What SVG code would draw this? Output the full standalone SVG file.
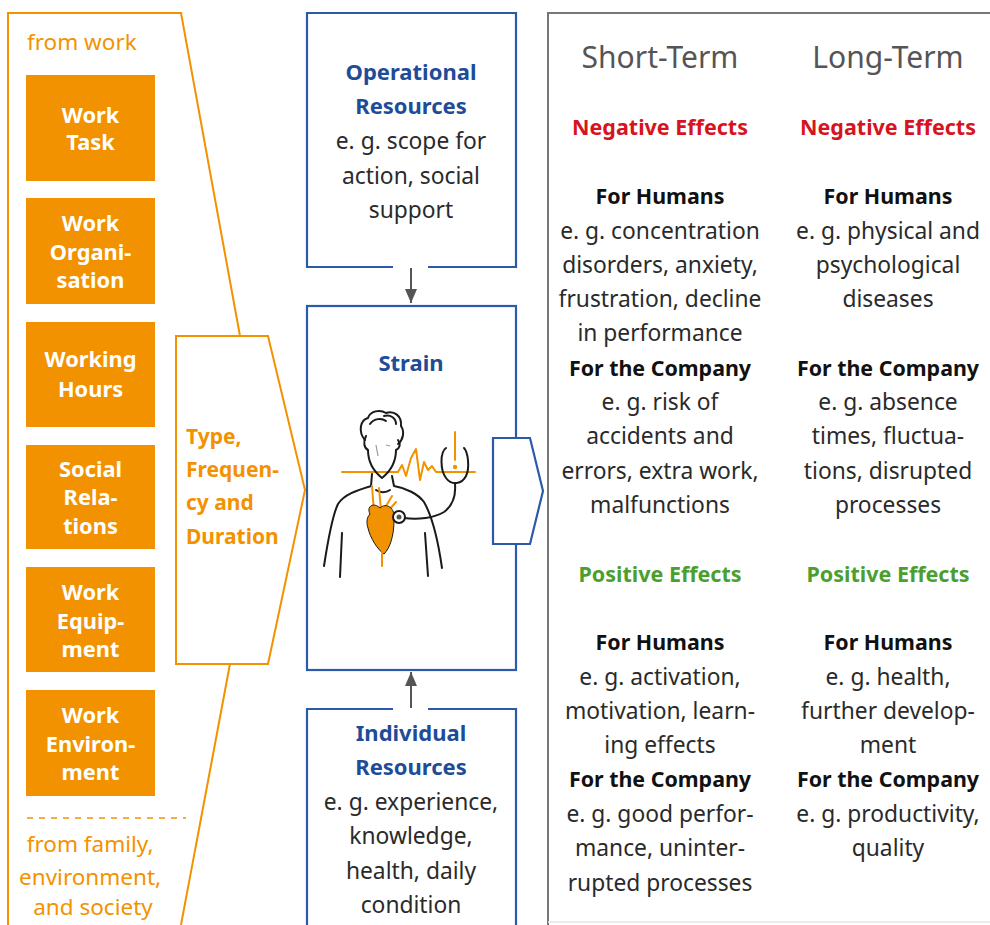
<svg xmlns="http://www.w3.org/2000/svg" width="990" height="925" viewBox="0 0 990 925">
  <defs>
    <style>
      .txt { font-family: "Noto Sans", "Open Sans", sans-serif; }
      .ob { fill: #F39200; }
      .obt { fill: #ffffff; font-weight: bold; font-size: 21.8px; text-anchor: middle; }
      .orange { fill: #F39200; }
      .oline { fill: none; stroke: #F39200; stroke-width: 2; }
      .bbox { fill: #ffffff; stroke: #2A5AA8; stroke-width: 2.2; }
      .bline { fill: none; stroke: #2A5AA8; stroke-width: 2.2; }
      .btitle { fill: #1E4C98; font-weight: bold; font-size: 22px; text-anchor: middle; }
      .body { fill: #2a2a2a; font-size: 22.8px; text-anchor: middle; }
      .head { fill: #111; font-weight: bold; font-size: 21.4px; text-anchor: middle; }
      .neg { fill: #D7141E; font-weight: bold; font-size: 21.5px; text-anchor: middle; }
      .pos { fill: #4A9F2E; font-weight: bold; font-size: 21.5px; text-anchor: middle; }
      .term { fill: #555555; font-size: 30px; text-anchor: middle; }
      .conn { stroke: #555555; stroke-width: 2; fill: none; }
      .ink { fill: none; stroke: #1a1a1a; stroke-width: 2; stroke-linecap: round; stroke-linejoin: round; }
      .oink { fill: none; stroke: #F39200; stroke-width: 2; stroke-linecap: round; stroke-linejoin: round; }
    </style>
    <marker id="tri" viewBox="0 0 14 12" refX="14" refY="6" markerWidth="14" markerHeight="12" markerUnits="userSpaceOnUse" orient="auto">
      <path d="M0,0 L14,6 L0,12 z" fill="#555555"/>
    </marker>
  </defs>

  <rect width="990" height="925" fill="#ffffff"/>

  <!-- Stressor funnel outline -->
  <g id="stressors-frame">
    <polyline class="oline" points="8,925 8,13 181,13 240,336"/>
    <line class="oline" x1="230" y1="664" x2="181" y2="925"/>
    <text class="txt orange" x="27" y="50" font-size="22.5">from work</text>
    <line x1="27" y1="818" x2="186" y2="818" stroke="#F39200" stroke-width="1.6" stroke-dasharray="6,6"/>
    <text class="txt orange" font-size="22.5" text-anchor="middle">
      <tspan x="93" y="852">from family,</tspan>
      <tspan x="93" y="885">environment,</tspan>
      <tspan x="93" y="915">and society</tspan>
    </text>
  </g>

  <g id="work-task">
    <rect class="ob" x="26" y="75" width="129" height="106"/>
    <text class="txt obt"><tspan x="90.5" y="123">Work</tspan><tspan x="90.5" y="150">Task</tspan></text>
  </g>
  <g id="work-organisation">
    <rect class="ob" x="26" y="198" width="129" height="106"/>
    <text class="txt obt"><tspan x="90.5" y="231">Work</tspan><tspan x="90.5" y="260">Organi-</tspan><tspan x="90.5" y="288">sation</tspan></text>
  </g>
  <g id="working-hours">
    <rect class="ob" x="26" y="322" width="129" height="105"/>
    <text class="txt obt"><tspan x="90.5" y="367">Working</tspan><tspan x="90.5" y="397">Hours</tspan></text>
  </g>
  <g id="social-relations">
    <rect class="ob" x="26" y="445" width="129" height="104"/>
    <text class="txt obt"><tspan x="90.5" y="477">Social</tspan><tspan x="90.5" y="505">Rela-</tspan><tspan x="90.5" y="534">tions</tspan></text>
  </g>
  <g id="work-equipment">
    <rect class="ob" x="26" y="567" width="129" height="105"/>
    <text class="txt obt"><tspan x="90.5" y="600">Work</tspan><tspan x="90.5" y="629">Equip-</tspan><tspan x="90.5" y="657">ment</tspan></text>
  </g>
  <g id="work-environment">
    <rect class="ob" x="26" y="690" width="129" height="106"/>
    <text class="txt obt"><tspan x="90.5" y="723">Work</tspan><tspan x="90.5" y="752">Environ-</tspan><tspan x="90.5" y="780">ment</tspan></text>
  </g>

  <!-- Type, frequency and duration -->
  <g id="type-frequency-duration">
    <polygon points="176,336 268,336 305,490 268,664 176,664" fill="#ffffff" stroke="#F39200" stroke-width="2"/>
    <text class="txt orange" font-size="21" font-weight="bold">
      <tspan x="186" y="444">Type,</tspan>
      <tspan x="186" y="477">Frequen-</tspan>
      <tspan x="186" y="510">cy and</tspan>
      <tspan x="186" y="544">Duration</tspan>
    </text>
  </g>

  <!-- Operational resources -->
  <g id="operational-resources">
    <polyline class="bline" points="393,267 307,267 307,13 516,13 516,267 428,267"/>
    <text class="txt btitle"><tspan x="411" y="80">Operational</tspan><tspan x="411" y="114">Resources</tspan></text>
    <text class="txt body"><tspan x="411" y="149">e. g. scope for</tspan><tspan x="411" y="184">action, social</tspan><tspan x="411" y="218">support</tspan></text>
  </g>

  <!-- Strain -->
  <g id="strain">
    <rect class="bbox" x="307" y="306" width="209" height="364"/>
    <text class="txt btitle" x="411" y="371">Strain</text>
    <!-- figure with stethoscope -->
    <g id="strain-figure">
      <!-- ECG trace -->
      <path class="oink" stroke-width="1.6" d="M342,472 L398,472 L402,465 L406,476 L411,458 L416,449 L420,480 L424,462 L428,470 L432,466 L436,472 L475,472"/>
      <!-- head and hair -->
      <path class="ink" d="M365,440 C358,432 360,420 368,418 C370,411 380,409 386,413 C394,410 402,416 401,426 C405,432 403,440 398,444"/>
      <path class="ink" stroke-width="1.5" d="M370,424 C374,418 382,418 386,421 M384,416 C390,414 396,418 396,424"/>
      <path class="ink" d="M366,436 C363,442 364,448 368,450 C368,460 372,470 382,478 C392,470 396,460 396,450 C400,448 401,444 398,440"/>
      <path d="M376,445 L378,456" stroke="#999" stroke-width="1.2" fill="none"/>
      <path d="M386,445 L390,446" stroke="#999" stroke-width="1.2" fill="none"/>
      <!-- neck and shoulders -->
      <path class="ink" d="M372,474 L371,486 C358,490 344,494 338,504 C332,516 328,540 324,566"/>
      <path class="ink" d="M392,476 L394,486 C406,488 418,494 424,502 C432,516 438,540 442,568"/>
      <path class="ink" d="M376,490 C380,493 386,493 390,490"/>
      <path class="ink" d="M342,533 L340,577"/>
      <path class="ink" d="M425,533 L428,576"/>
      <!-- heart -->
      <path class="oink" d="M372,486 L374,512 M379,488 L381,510 M386,506 L392,496 M389,510 L396,502"/>
      <path d="M370,514 C366,506 374,502 380,508 C386,502 396,508 394,520 C394,536 390,548 384,554 C378,550 370,538 368,528 C366,522 367,517 370,514 Z" fill="#F39200" stroke="#1a1a1a" stroke-width="1"/>
      <path class="oink" stroke-width="2.5" d="M382,552 L382,566"/>
      <!-- stethoscope -->
      <path class="ink" d="M446,448 C440,452 440,470 446,478 C452,486 462,484 466,476 C470,468 468,452 464,448"/>
      <path class="ink" d="M455,484 C456,496 452,506 444,512 C434,518 418,520 404,518"/>
      <circle cx="399" cy="517" r="6" fill="#ffffff" stroke="#1a1a1a" stroke-width="2"/>
      <circle cx="399" cy="517" r="2.5" fill="#555"/>
      <!-- warning mark -->
      <line class="oink" stroke-width="3" x1="455" y1="432" x2="455" y2="460"/>
      <circle cx="455" cy="467" r="2.2" fill="#F39200"/>
    </g>
    <polygon points="493,438 530,438 543,491 530,544 493,544" fill="#ffffff" stroke="#2A5AA8" stroke-width="2.2"/>
  </g>

  <!-- Individual resources -->
  <g id="individual-resources">
    <polyline class="bline" points="393,709 307,709 307,930"/>
    <polyline class="bline" points="428,709 516,709 516,930"/>
    <text class="txt btitle"><tspan x="411" y="741">Individual</tspan><tspan x="411" y="775">Resources</tspan></text>
    <text class="txt body"><tspan x="411" y="810">e. g. experience,</tspan><tspan x="411" y="844">knowledge,</tspan><tspan x="411" y="879">health, daily</tspan><tspan x="411" y="913">condition</tspan></text>
  </g>

  <!-- Connectors -->
  <g id="connectors">
    <line class="conn" x1="411" y1="268" x2="411" y2="303" marker-end="url(#tri)"/>
    <line class="conn" x1="411" y1="708" x2="411" y2="672" marker-end="url(#tri)"/>
  </g>

  <!-- Effects panel -->
  <g id="effects-panel">
    <polyline points="548,925 548,13 995,13" fill="none" stroke="#777777" stroke-width="2"/>
    <line x1="548" y1="922" x2="990" y2="922" stroke="#e6e6e6" stroke-width="1.5"/>
  </g>

  <g id="short-term">
    <text class="txt term" x="660" y="68">Short-Term</text>
    <text class="txt neg" x="660" y="135">Negative Effects</text>
    <text class="txt head" x="660" y="204">For Humans</text>
    <text class="txt body"><tspan x="660" y="239">e. g. concentration</tspan><tspan x="660" y="273">disorders, anxiety,</tspan><tspan x="660" y="307">frustration, decline</tspan><tspan x="660" y="341">in performance</tspan></text>
    <text class="txt head" x="660" y="376">For the Company</text>
    <text class="txt body"><tspan x="660" y="410">e. g. risk of</tspan><tspan x="660" y="444">accidents and</tspan><tspan x="660" y="479">errors, extra work,</tspan><tspan x="660" y="513">malfunctions</tspan></text>
    <text class="txt pos" x="660" y="582">Positive Effects</text>
    <text class="txt head" x="660" y="650">For Humans</text>
    <text class="txt body"><tspan x="660" y="685">e. g. activation,</tspan><tspan x="660" y="719">motivation, learn-</tspan><tspan x="660" y="753">ing effects</tspan></text>
    <text class="txt head" x="660" y="787">For the Company</text>
    <text class="txt body"><tspan x="660" y="822">e. g. good perfor-</tspan><tspan x="660" y="856">mance, uninter-</tspan><tspan x="660" y="891">rupted processes</tspan></text>
  </g>

  <g id="long-term">
    <text class="txt term" x="888" y="68">Long-Term</text>
    <text class="txt neg" x="888" y="135">Negative Effects</text>
    <text class="txt head" x="888" y="204">For Humans</text>
    <text class="txt body"><tspan x="888" y="239">e. g. physical and</tspan><tspan x="888" y="273">psychological</tspan><tspan x="888" y="307">diseases</tspan></text>
    <text class="txt head" x="888" y="376">For the Company</text>
    <text class="txt body"><tspan x="888" y="410">e. g. absence</tspan><tspan x="888" y="444">times, fluctua-</tspan><tspan x="888" y="479">tions, disrupted</tspan><tspan x="888" y="513">processes</tspan></text>
    <text class="txt pos" x="888" y="582">Positive Effects</text>
    <text class="txt head" x="888" y="650">For Humans</text>
    <text class="txt body"><tspan x="888" y="685">e. g. health,</tspan><tspan x="888" y="719">further develop-</tspan><tspan x="888" y="753">ment</tspan></text>
    <text class="txt head" x="888" y="787">For the Company</text>
    <text class="txt body"><tspan x="888" y="822">e. g. productivity,</tspan><tspan x="888" y="856">quality</tspan></text>
  </g>
</svg>
